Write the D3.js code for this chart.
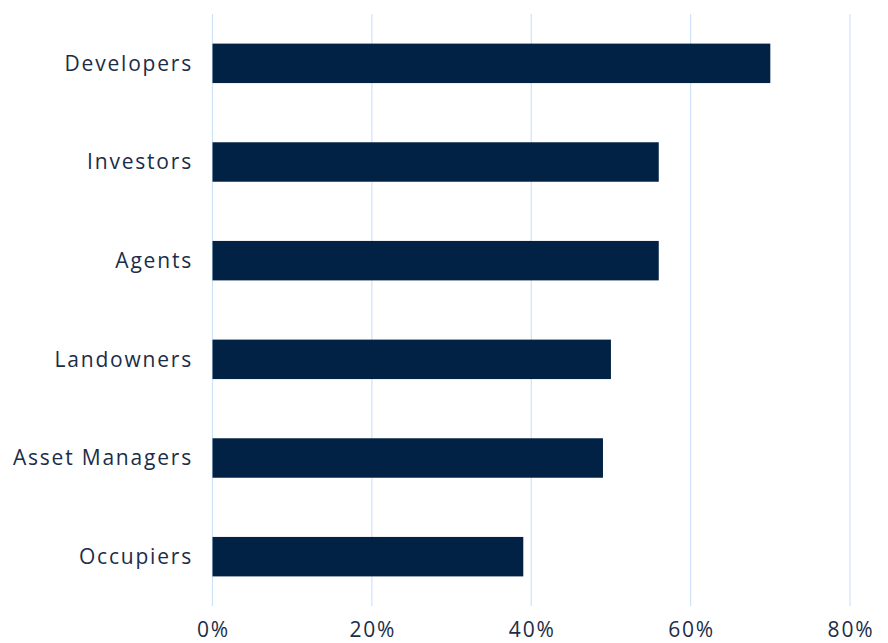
<!DOCTYPE html>
<html>
<head>
<meta charset="utf-8">
<script src="https://cdn.jsdelivr.net/npm/d3@7"></script>
<style>
  html, body { margin: 0; padding: 0; background: #fff; }
  svg { display: block; }
  .lbl { font-family: "Open Sans", "Noto Sans", sans-serif; fill: #1b2d48; }
</style>
</head>
<body>
<svg id="chart" width="888" height="643"></svg>
<script>
const categories = ["Developers", "Investors", "Agents", "Landowners", "Asset Managers", "Occupiers"];
const values = [70, 56, 56, 50, 49, 39];
const tickValues = [0, 20, 40, 60, 80];

const svg = d3.select("#chart");
const plotLeft = 212.5, plotRight = 850, plotTop = 14, plotBottom = 606;

const x = d3.scaleLinear().domain([0, 80]).range([plotLeft, plotRight]);
const y = d3.scaleBand().domain(categories).range([plotTop, plotBottom])
  .paddingInner(0.6).paddingOuter(0.3);

// vertical gridlines
svg.append("g").selectAll("line").data(tickValues).join("line")
  .attr("x1", d => x(d)).attr("x2", d => x(d))
  .attr("y1", plotTop).attr("y2", plotBottom)
  .attr("stroke", "#cfe3f8").attr("stroke-width", 1.2);

// bars
svg.append("g").selectAll("rect").data(categories).join("rect")
  .attr("x", x(0))
  .attr("y", d => y(d))
  .attr("width", (d, i) => x(values[i]) - x(0))
  .attr("height", y.bandwidth())
  .attr("fill", "#012244");

// category labels
svg.append("g").selectAll("text").data(categories).join("text")
  .attr("class", "lbl")
  .attr("x", 193)
  .attr("y", d => y(d) + y.bandwidth() / 2)
  .attr("dy", "0.35em")
  .attr("text-anchor", "end")
  .attr("font-size", 21)
  .attr("letter-spacing", 1.8)
  .text(d => d);

// tick labels
svg.append("g").selectAll("text").data(tickValues).join("text")
  .attr("class", "lbl")
  .attr("x", d => x(d) + 1)
  .attr("y", 637)
  .attr("text-anchor", "middle")
  .attr("font-size", 21)
  .attr("letter-spacing", 1.8)
  .text(d => d + "%");
</script>
</body>
</html>
